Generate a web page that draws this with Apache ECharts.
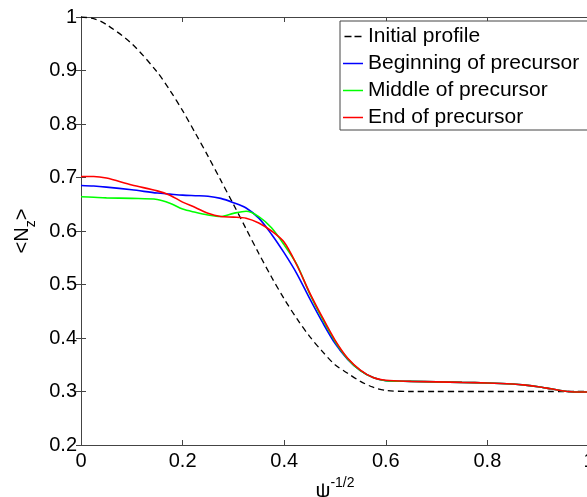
<!DOCTYPE html>
<html>
<head>
<meta charset="utf-8">
<script src="https://cdn.jsdelivr.net/npm/echarts@6/dist/echarts.min.js"></script>
<style>
  html, body { margin: 0; padding: 0; background: #fff; }
  #chart-container { width: 587px; height: 497px; }
</style>
</head>
<body>
<div id="chart-container"></div>
<script>
let dom = document.getElementById("chart-container");
let myChart = echarts.init(dom, null, { renderer: "canvas" });

// x positions (psi^-1/2)
const xs = [0, 0.025, 0.05, 0.1, 0.15, 0.175, 0.2, 0.225, 0.25, 0.275, 0.3, 0.325,
  0.35, 0.375, 0.4, 0.425, 0.45, 0.475, 0.5, 0.525, 0.55, 0.575, 0.6, 0.65, 0.7,
  0.75, 0.8, 0.85, 0.875, 0.9, 0.925, 0.95, 0.975, 1.0];

const initialProfile = [1.000, 0.997, 0.986, 0.950, 0.897, 0.863, 0.825, 0.783, 0.740,
  0.695, 0.650, 0.604, 0.558, 0.514, 0.473, 0.436, 0.403, 0.375, 0.350, 0.334, 0.319,
  0.308, 0.302, 0.300, 0.300, 0.300, 0.300, 0.300, 0.300, 0.300, 0.300, 0.300, 0.300, 0.300];

const beginning = [0.685, 0.684, 0.682, 0.677, 0.671, 0.669, 0.667, 0.666, 0.665,
  0.661, 0.653, 0.643, 0.624, 0.594, 0.559, 0.520, 0.474, 0.430, 0.390, 0.360, 0.339,
  0.326, 0.320, 0.319, 0.318, 0.317, 0.316, 0.314, 0.312, 0.309, 0.305, 0.301, 0.299, 0.299];

const middle = [0.664, 0.663, 0.662, 0.661, 0.659, 0.652, 0.641, 0.635, 0.630,
  0.627, 0.633, 0.637, 0.627, 0.606, 0.574, 0.537, 0.483, 0.436, 0.394, 0.361, 0.339,
  0.326, 0.320, 0.319, 0.318, 0.317, 0.316, 0.314, 0.312, 0.309, 0.305, 0.301, 0.299, 0.299];

const end = [0.702, 0.702, 0.699, 0.686, 0.675, 0.667, 0.654, 0.644, 0.633,
  0.627, 0.626, 0.624, 0.615, 0.600, 0.579, 0.536, 0.485, 0.439, 0.396, 0.362, 0.340,
  0.326, 0.321, 0.319, 0.318, 0.317, 0.316, 0.314, 0.312, 0.309, 0.305, 0.301, 0.299, 0.299];

const seriesNames = ["Initial profile", "Beginning of precursor", "Middle of precursor", "End of precursor"];

const font = "Liberation Sans, Arial, sans-serif";
const axisColor = "#444";

// legend icons: two short dashes for the dashed curve, a thin bar for the others
const dashIcon = "path://M0,0h7v1.5h-7zM10,0h7v1.5h-7z";
const lineIcon = "rect";

function pairs(ys) {
  return xs.map((x, i) => [x, ys[i]]);
}

function lineSeries(name, ys, color, width, type) {
  return {
    name: name,
    type: "line",
    data: pairs(ys),
    symbol: "none",
    showSymbol: false,
    smooth: 0.3,
    lineStyle: { color: color, width: width, type: type },
    itemStyle: { color: color },
    z: name === seriesNames[0] ? 2 : 3,
  };
}

const frameAxis = {
  axisLine: { show: true, lineStyle: { color: axisColor, width: 1 } },
  axisTick: { show: true, inside: true, length: 5, lineStyle: { color: axisColor } },
  axisLabel: { show: false },
  splitLine: { show: false },
};

let option = {
  animation: false,
  backgroundColor: "#fff",
  grid: { left: 81, top: 17, width: 508, height: 428, containLabel: false, outerBoundsMode: "none" },
  legend: {
    orient: "vertical",
    left: 340,
    top: 21,
    data: [
      { name: seriesNames[0], icon: dashIcon },
      { name: seriesNames[1], icon: lineIcon },
      { name: seriesNames[2], icon: lineIcon },
      { name: seriesNames[3], icon: lineIcon },
    ],
    itemWidth: 20,
    itemHeight: 1.5,
    itemGap: 6,
    padding: [5, 12, 2, 3],
    backgroundColor: "#fff",
    borderColor: axisColor,
    borderWidth: 1,
    borderRadius: 0,
    textStyle: { fontFamily: font, fontSize: 21, color: "#000", lineHeight: 21 },
  },
  xAxis: [
    {
      type: "value",
      min: 0,
      max: 1,
      interval: 0.2,
      position: "bottom",
      axisLine: { show: true, onZero: false, lineStyle: { color: axisColor, width: 1 } },
      axisTick: { show: true, inside: true, length: 5, lineStyle: { color: axisColor } },
      axisLabel: { fontFamily: font, fontSize: 20, color: "#000", margin: 6 },
      splitLine: { show: false },
      name: "{a|ψ}{s|-1/2}",
      nameLocation: "middle",
      nameGap: 19,
      nameTextStyle: {
        rich: {
          a: { fontFamily: font, fontSize: 21, color: "#000", lineHeight: 26, verticalAlign: "bottom" },
          s: { fontFamily: font, fontSize: 14, color: "#000", lineHeight: 26, verticalAlign: "top" },
        },
      },
    },
    Object.assign({ type: "value", min: 0, max: 1, interval: 0.2, position: "top" }, frameAxis),
  ],
  yAxis: [
    {
      type: "value",
      min: 0.2,
      max: 1,
      interval: 0.1,
      position: "left",
      axisLine: { show: true, onZero: false, lineStyle: { color: axisColor, width: 1 } },
      axisTick: { show: true, inside: true, length: 5, lineStyle: { color: axisColor } },
      axisLabel: { fontFamily: font, fontSize: 20, color: "#000", margin: 4 },
      splitLine: { show: false },
      name: "{a|<N}{b|z}{a|>}",
      nameLocation: "middle",
      nameRotate: 90,
      nameGap: 38,
      nameTextStyle: {
        rich: {
          a: { fontFamily: font, fontSize: 20, color: "#000", lineHeight: 26, verticalAlign: "top" },
          b: { fontFamily: font, fontSize: 14, color: "#000", lineHeight: 26, verticalAlign: "bottom" },
        },
      },
    },
    Object.assign({ type: "value", min: 0.2, max: 1, interval: 0.1, position: "right" }, frameAxis),
  ],
  series: [
    lineSeries(seriesNames[0], initialProfile, "#000", 1.3, [6, 4]),
    lineSeries(seriesNames[1], beginning, "#0000ff", 1.6, "solid"),
    lineSeries(seriesNames[2], middle, "#00ff00", 1.6, "solid"),
    lineSeries(seriesNames[3], end, "#ff0000", 1.6, "solid"),
  ],
};

myChart.setOption(option);
window.addEventListener("resize", myChart.resize);
</script>
</body>
</html>
